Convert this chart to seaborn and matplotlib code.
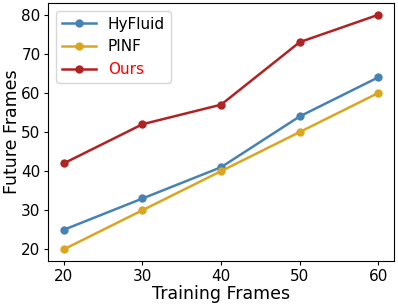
import matplotlib
matplotlib.use("Agg")
import matplotlib.pyplot as plt
import pandas as pd
import seaborn as sns

# Data
training_frames = [20, 30, 40, 50, 60]
hyfluid = [25, 33, 41, 54, 64]
pinf = [20, 30, 40, 50, 60]
ours = [42, 52, 57, 73, 80]

methods = ["HyFluid", "PINF", "Ours"]
colors = {"HyFluid": "steelblue", "PINF": "goldenrod", "Ours": "firebrick"}


def main():
    df = pd.DataFrame(
        {
            "Training Frames": training_frames * 3,
            "Future Frames": hyfluid + pinf + ours,
            "Method": ["HyFluid"] * 5 + ["PINF"] * 5 + ["Ours"] * 5,
        }
    )

    plt.rcParams["font.family"] = ["DejaVu Sans"]

    fig, ax = plt.subplots(figsize=(3.98, 3.06), dpi=100)
    sns.lineplot(
        data=df,
        x="Training Frames",
        y="Future Frames",
        hue="Method",
        hue_order=methods,
        palette=colors,
        marker="o",
        markersize=6,
        markeredgewidth=0,
        linewidth=1.8,
        ax=ax,
    )

    ax.set_xticks(training_frames)
    ax.tick_params(labelsize=11, length=3, pad=2.5)
    ax.set_xlabel("Training Frames", fontsize=12.5, labelpad=1)
    ax.set_ylabel("Future Frames", fontsize=12.5)
    ax.yaxis.set_label_coords(-0.078, 0.5)

    leg = ax.legend(fontsize=11, loc="upper left", handlelength=2.2)
    for text in leg.get_texts():
        if text.get_text() == "Ours":
            text.set_color("red")

    fig.subplots_adjust(left=0.121, right=0.99, top=0.99, bottom=0.147)
    plt.savefig("out.png", dpi=100)


if __name__ == "__main__":
    main()
